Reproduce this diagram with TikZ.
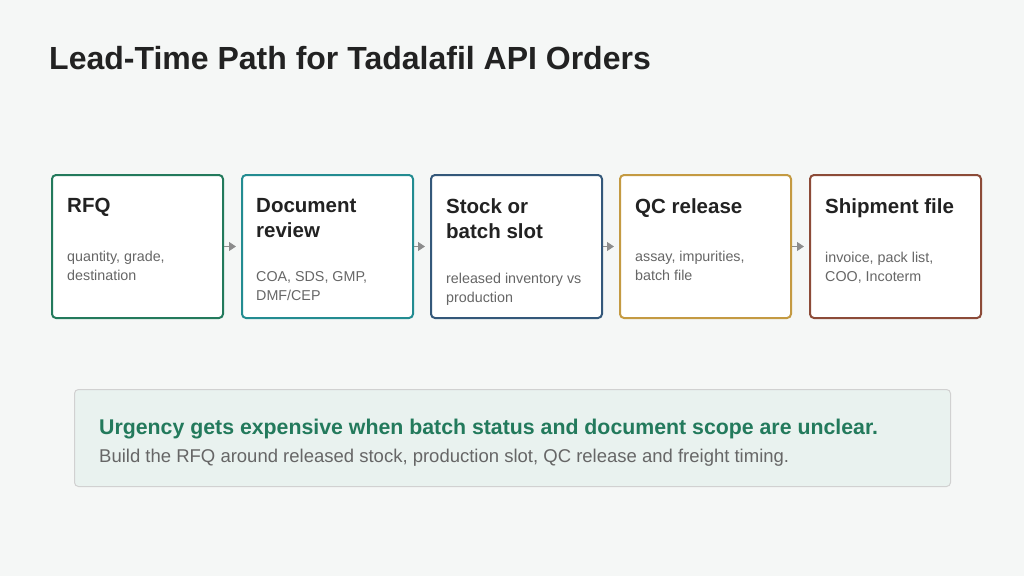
\documentclass[tikz,border=0pt]{standalone}
\usepackage{fontspec}
\setmainfont{Liberation Sans}
\usetikzlibrary{positioning,arrows.meta}
\definecolor{bgc}{HTML}{F5F7F6}
\definecolor{cgreen}{HTML}{237A5C}
\definecolor{cteal}{HTML}{238C91}
\definecolor{cblue}{HTML}{34587A}
\definecolor{cgold}{HTML}{C49A42}
\definecolor{cbrown}{HTML}{8C4B38}
\definecolor{ink}{HTML}{222222}
\definecolor{muted}{HTML}{666666}
\tikzset{
  step/.style={draw=#1, line width=2pt, rounded corners=4pt, fill=white,
    minimum width=171pt, minimum height=143pt, anchor=north west},
  head/.style={anchor=north west, align=left, text=ink, font=\bfseries\fontsize{20.5}{25}\selectfont, inner sep=0pt},
  body/.style={anchor=north west, align=left, text=muted, font=\fontsize{14.3}{19}\selectfont, inner sep=0pt, at={(#1.south west)}, yshift=-34pt},
  link/.style={draw=gray!90, line width=1pt, -{Triangle[length=7pt,width=9pt]}, shorten >=5pt}
}
\begin{document}
\begin{tikzpicture}[x=1pt,y=-1pt]
  \fill[bgc] (0,0) rectangle (1024,576);
  \useasboundingbox (0,0) rectangle (1024,576);

  % title
  \node[anchor=west, text=ink, font=\bfseries\fontsize{32}{36}\selectfont, inner sep=0pt] (title) at (49,58) {Lead-Time Path for Tadalafil API Orders};

  % steps
  \node[step=cgreen] (s1) at (51,174) {};
  \node[step=cteal]  (s2) at (241,174) {};
  \node[step=cblue]  (s3) at (430,174) {};
  \node[step=cgold]  (s4) at (619,174) {};
  \node[step=cbrown] (s5) at (809,174) {};

  \node[head] (h1) at (67,198) {RFQ};
  \node[body=h1] (b1) {quantity, grade,\\destination};
  \node[head] (h2) at (256,198) {Document\\review};
  \node[body=h2] (b2) {COA, SDS, GMP,\\DMF/CEP};
  \node[head] (h3) at (446,198) {Stock or\\batch slot};
  \node[body=h3] (b3) {released inventory vs\\production};
  \node[head] (h4) at (635,198) {QC release};
  \node[body=h4] (b4) {assay, impurities,\\batch file};
  \node[head] (h5) at (825,198) {Shipment file};
  \node[body=h5] (b5) {invoice, pack list,\\COO, Incoterm};

  \foreach \a/\b in {s1/s2,s2/s3,s3/s4,s4/s5}
    \draw[link] (\a.east) -- (\b.west);

  % note panel
  \node[draw=black!18, fill=cgreen!10, line width=1pt, rounded corners=4pt, anchor=north west,
        minimum width=876pt, minimum height=97pt] (note) at (74,389) {};
  \node[anchor=west, inner sep=0pt, text=cgreen, font=\bfseries\fontsize{21.3}{24}\selectfont] (n1) at (99,429) {Urgency gets expensive when batch status and document scope are unclear.};
  \node[anchor=west, inner sep=0pt, text=muted, font=\fontsize{18.5}{22}\selectfont] (n2) at (99,458) {Build the RFQ around released stock, production slot, QC release and freight timing.};
\end{tikzpicture}
\end{document}
